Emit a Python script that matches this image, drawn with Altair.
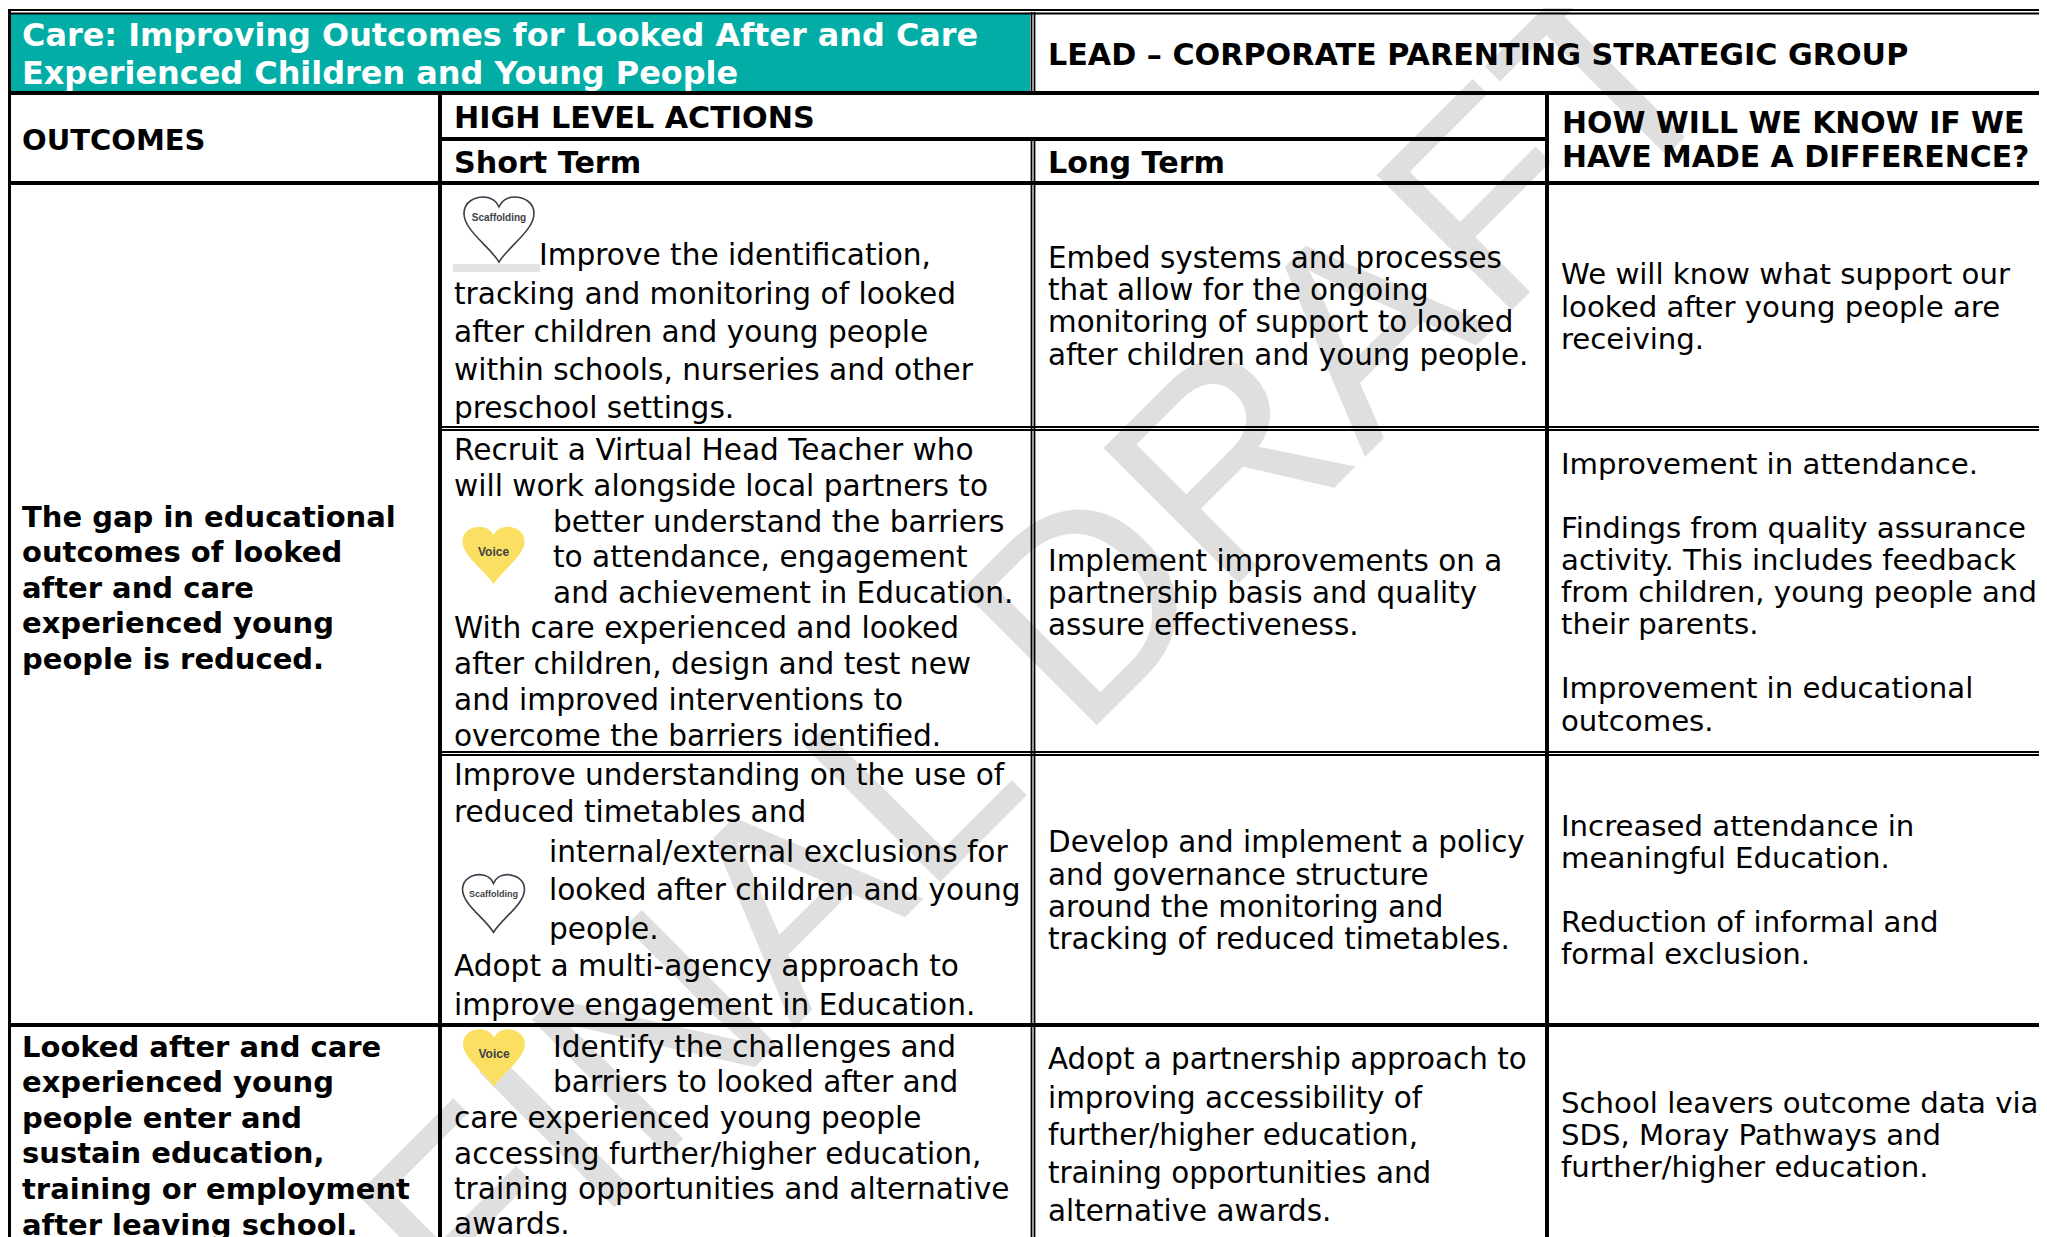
import altair as alt
import pandas as pd

# ---------- text of the table: (x, [(baseline, text), ...]) ----------
TITLE = [(22, [(46, "Care: Improving Outcomes for Looked After and Care"),
               (84, "Experienced Children and Young People")])]
HEADINGS = [
    (1048, [(65, "LEAD – CORPORATE PARENTING STRATEGIC GROUP"), (173, "Long Term")]),
    (454, [(128, "HIGH LEVEL ACTIONS"), (173, "Short Term")]),
]
HOW_HEADING = [
    (1562, [(133, "HOW WILL WE KNOW IF WE"), (167, "HAVE MADE A DIFFERENCE?")]),
]
OUTCOMES = [
    (22, [(150, "OUTCOMES")]),
    (22, [(527, "The gap in educational"), (562, "outcomes of looked"), (598, "after and care"),
          (633, "experienced young"), (669, "people is reduced.")]),
    (22, [(1057, "Looked after and care"), (1092, "experienced young"), (1128, "people enter and"),
          (1163, "sustain education,"), (1199, "training or employment"), (1235, "after leaving school.")]),
]
SHORT_TERM = [
    (539, [(265, "Improve the identification,")]),
    (454, [(304, "tracking and monitoring of looked"), (342, "after children and young people"),
           (380, "within schools, nurseries and other"), (418, "preschool settings."),
           (460, "Recruit a Virtual Head Teacher who"), (496, "will work alongside local partners to")]),
    (553, [(532, "better understand the barriers"), (567, "to attendance, engagement"),
           (603, "and achievement in Education.")]),
    (454, [(638, "With care experienced and looked"), (674, "after children, design and test new"),
           (710, "and improved interventions to"), (746, "overcome the barriers identified."),
           (785, "Improve understanding on the use of"), (822, "reduced timetables and")]),
    (549, [(862, "internal/external exclusions for"), (900, "looked after children and young"), (939, "people.")]),
    (454, [(976, "Adopt a multi-agency approach to"), (1015, "improve engagement in Education.")]),
    (553, [(1057, "Identify the challenges and"), (1092, "barriers to looked after and")]),
    (454, [(1128, "care experienced young people"), (1164, "accessing further/higher education,"),
           (1199, "training opportunities and alternative"), (1234, "awards.")]),
]
LONG_TERM = [
    (1048, [(268, "Embed systems and processes"), (300, "that allow for the ongoing"),
            (332, "monitoring of support to looked"), (365, "after children and young people."),
            (571, "Implement improvements on a"), (603, "partnership basis and quality"),
            (635, "assure effectiveness."),
            (852, "Develop and implement a policy"), (885, "and governance structure"),
            (917, "around the monitoring and"), (949, "tracking of reduced timetables."),
            (1069, "Adopt a partnership approach to"), (1108, "improving accessibility of"),
            (1145, "further/higher education,"), (1183, "training opportunities and"),
            (1221, "alternative awards.")]),
]
DIFFERENCE = [
    (1561, [(284, "We will know what support our"), (317, "looked after young people are"), (349, "receiving."),
            (474, "Improvement in attendance."),
            (538, "Findings from quality assurance"), (570, "activity. This includes feedback"),
            (602, "from children, young people and"), (634, "their parents."),
            (698, "Improvement in educational"), (731, "outcomes."),
            (836, "Increased attendance in"), (868, "meaningful Education."),
            (932, "Reduction of informal and"), (964, "formal exclusion."),
            (1113, "School leavers outcome data via"), (1145, "SDS, Moray Pathways and"),
            (1177, "further/higher education.")]),
]

# ---------- table grid ----------
THICK_H = [(93, 8, 2047), (139, 440, 1547), (183, 8, 2047), (1025, 8, 2047)]
THIN_H = [(10, 8, 2047), (13.5, 8, 2047), (427, 440, 2047), (430, 440, 2047),
          (752, 440, 2047), (755, 440, 2047)]
THICK_V = [(440, 92, 1237), (1547, 92, 1237)]
BORDER_V = [(9.5, 9, 1237)]
THIN_V = [(1031.5, 12, 92), (1034.5, 12, 92), (1031.5, 139, 1237), (1034.5, 139, 1237)]

# ---------- hearts ----------
HEART = ("M0,0.93 C-0.25,0.5 -1,0.02 -1,-0.45 C-1,-0.8 -0.68,-0.93 -0.45,-0.93 "
         "C-0.22,-0.93 -0.06,-0.8 0,-0.65 C0.06,-0.8 0.22,-0.93 0.45,-0.93 "
         "C0.68,-0.93 1,-0.8 1,-0.45 C1,0.02 0.25,0.5 0,0.93 Z")
HEART_X = [499, 493.5, 493.5, 494]
HEART_Y = [229.5, 555.5, 903.5, 1058]
HEART_KIND = ["Scaffolding", "Voice", "Scaffolding", "Voice"]
HEART_LABEL_Y = [218, 552, 894, 1054]
HEART_AREA = [4900, 3844, 3844, 3844]
HEART_FONT = [10, 12, 9, 12]

# ---------- watermark ----------
WATERMARK = ["FINAL DRAFT"]
WM_X, WM_Y = [1106], [716]


def lines(cells):
    return pd.DataFrame(
        [{"x": x, "y": y, "t": t} for x, rows in cells for y, t in rows]
    )


X = alt.Scale(domain=[8, 2039], range=[0, 2031], nice=False, zero=False)
Y = alt.Scale(domain=[8, 1237], reverse=True, nice=False, zero=False)
xe = lambda f="x": alt.X(f"{f}:Q", scale=X, axis=None)
ye = lambda f="y": alt.Y(f"{f}:Q", scale=Y, axis=None)


def text_layer(cells, size, color="#000000", weight="normal"):
    return alt.Chart(lines(cells)).mark_text(
        align="left", baseline="alphabetic", font="DejaVu Sans",
        fontSize=size, fontWeight=weight, color=color, clip=True,
    ).encode(x=xe(), y=ye(), text="t:N")


def hrules(rows, w):
    df = pd.DataFrame(rows, columns=["y", "x", "x2"])
    return alt.Chart(df).mark_rule(color="#000000", strokeWidth=w, clip=True).encode(
        x=xe(), x2="x2:Q", y=ye())


def vrules(rows, w):
    df = pd.DataFrame(rows, columns=["x", "y", "y2"])
    return alt.Chart(df).mark_rule(color="#000000", strokeWidth=w, clip=True).encode(
        x=xe(), y=ye(), y2="y2:Q")


def rect(x, x2, y, y2, color):
    df = pd.DataFrame({"x": [x], "x2": [x2], "y": [y], "y2": [y2]})
    return alt.Chart(df).mark_rect(color=color).encode(
        x=xe(), x2="x2:Q", y=ye(), y2="y2:Q")


teal = rect(11, 1030, 14, 91, "#02ada6")
bar = rect(453, 540, 264, 272, "#e3e3e3")

wm = alt.Chart(pd.DataFrame({"x": WM_X, "y": WM_Y, "t": WATERMARK})).mark_text(
    align="center", baseline="alphabetic", font="Liberation Sans", fontSize=278,
    angle=315, color="#dfdfdf", clip=True,
).encode(x=xe(), y=ye(), text="t:N")

hearts_df = pd.DataFrame({"x": HEART_X, "y": HEART_Y, "k": HEART_KIND,
                          "ly": HEART_LABEL_Y, "a": HEART_AREA, "f": HEART_FONT})
hv = hearts_df[hearts_df.k == "Voice"]
hs = hearts_df[hearts_df.k != "Voice"]
voice = alt.Chart(hv).mark_point(shape=HEART, filled=True, color="#fbdf62", opacity=1).encode(
    x=xe(), y=ye(), size=alt.Size("a:Q", scale=None, legend=None))
scaff = alt.Chart(hs).mark_point(shape=HEART, filled=False, color="#3c3c4a", opacity=1, strokeWidth=1.6).encode(
    x=xe(), y=ye(), size=alt.Size("a:Q", scale=None, legend=None))
labels = alt.Chart(hearts_df).mark_text(font="Liberation Sans", fontWeight="bold",
                                        color="#3f3f48", baseline="middle").encode(
    x=xe(), y=ye("ly"), text="k:N", size=alt.Size("f:Q", scale=None, legend=None))

chart = alt.layer(
    wm, teal, bar, voice, scaff, labels,
    text_layer(TITLE, 31.9, "#ffffff", "bold"),
    text_layer(HEADINGS, 30.2, "#000000", "bold"),
    text_layer(HOW_HEADING, 29.9, "#000000", "bold"),
    text_layer(OUTCOMES, 29, "#000000", "bold"),
    text_layer(SHORT_TERM, 29.6),
    text_layer(LONG_TERM, 29.4),
    text_layer(DIFFERENCE, 29.2),
    hrules(THICK_H, 4), hrules(THIN_H, 1.8), vrules(THICK_V, 4), vrules(BORDER_V, 3), vrules(THIN_V, 1.8),
).properties(width=2031, height=1229, padding=0, background="#ffffff"
).configure_view(stroke=None)

chart.save("out.html", embed_options={"renderer": "svg", "actions": False})
